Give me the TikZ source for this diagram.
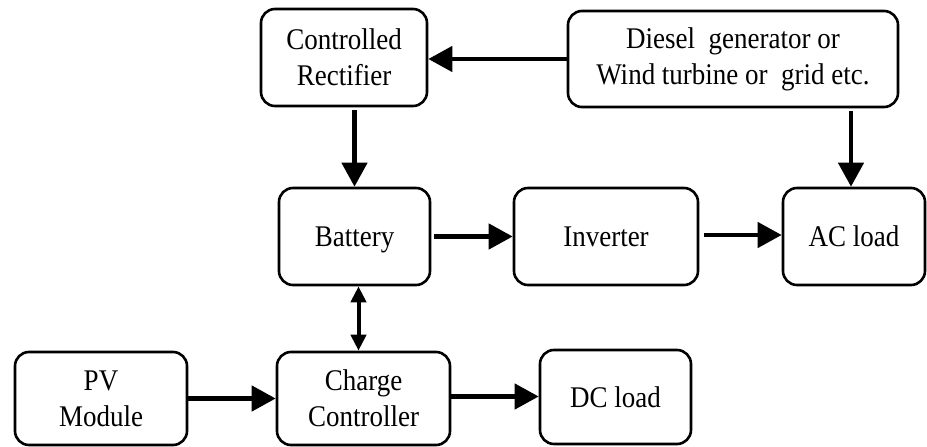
\documentclass[tikz,border=0pt]{standalone}
\usepackage{fontspec}
\setmainfont{Liberation Serif}[FakeStretch=0.9]
\usetikzlibrary{arrows.meta}
\begin{document}
\begin{tikzpicture}[x=1pt,y=-1pt,
  blk/.style={draw, line width=2.6pt, rounded corners=14pt, inner sep=0pt, align=center,
    font=\fontsize{30}{36}\selectfont},
  oneline/.style={text height=20pt, text depth=0pt},
  arr/.style={line width=4.5pt, -{Triangle[length=24pt,width=25pt]}},
  darr/.style={line width=4pt, {Triangle[length=16pt,width=15pt]}-{Triangle[length=16pt,width=15pt]}}]
\useasboundingbox (0,0) rectangle (927,447);
\node[blk, minimum width=166pt, minimum height=97pt] (rect) at (344,57.5) {Controlled\\Rectifier};
\node[blk, minimum width=330pt, minimum height=96pt] (dg) at (733,59) {Diesel\ \ generator or\\Wind turbine or\ \ grid etc.};
\node[blk, oneline, minimum width=151pt, minimum height=97pt] (bat) at (354.5,236.5) {Battery};
\node[blk, oneline, minimum width=184pt, minimum height=97pt] (inv) at (606,236.5) {Inverter};
\node[blk, oneline, minimum width=142pt, minimum height=97pt] (ac) at (854,236.5) {AC load};
\node[blk, minimum width=172pt, minimum height=93pt] (pv) at (101,398.5) {PV\\Module};
\node[blk, minimum width=173pt, minimum height=93pt] (cc) at (363.5,398.5) {Charge\\Controller};
\node[blk, oneline, minimum width=151pt, minimum height=94pt] (dc) at (615.5,397) {DC load};
\draw[arr] (dg.west) -- (dg.west -| rect.east);
\draw[arr, shorten <=3pt] (bat.north |- rect.south) -- (bat.north);
\draw[arr, shorten <=3pt] ([xshift=-3pt]ac.north |- dg.south) -- ([xshift=-3pt]ac.north);
\draw[arr, shorten <=3pt] (bat.east) -- (bat.east -| inv.west);
\draw[arr, shorten <=5pt] ([yshift=1.5pt]inv.east) -- ([yshift=1.5pt]inv.east -| ac.west);
\draw[arr] (pv.east) -- (pv.east -| cc.west);
\draw[arr] ([yshift=2pt]cc.east) -- ([yshift=2pt]cc.east -| dc.west);
\draw[darr] ([xshift=4pt]bat.south) -- ([xshift=4pt]bat.south |- cc.north);
\end{tikzpicture}
\end{document}
